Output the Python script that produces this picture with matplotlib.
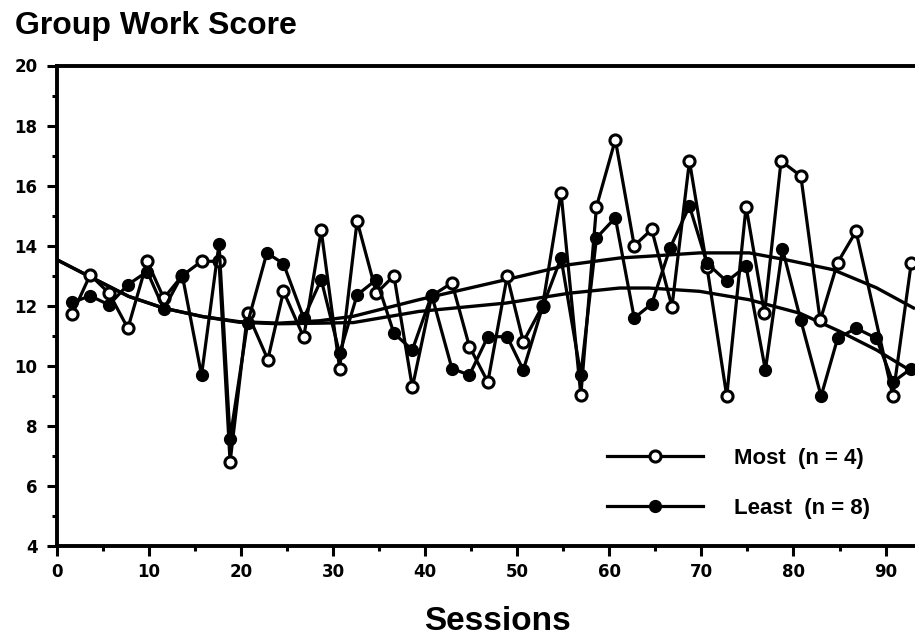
import matplotlib.pyplot as plt
from matplotlib.ticker import MultipleLocator

# session numbers and group work scores
most_x = [1.66, 3.6, 5.65, 7.7, 9.8, 11.6, 13.6, 15.7, 17.6, 18.8, 20.7, 22.9, 24.6,
          26.8, 28.7, 30.7, 32.6, 34.7, 36.6, 38.6, 40.7, 42.9, 44.8, 46.8, 48.9,
          50.65, 52.75, 54.75, 56.9, 58.6, 60.65, 62.7, 64.6, 66.8, 68.7, 70.6,
          72.75, 74.85, 76.85, 78.65, 80.8, 82.9, 84.8, 86.8, 90.8, 92.8]
most_y = [11.72, 13.03, 12.42, 11.25, 13.48, 12.25, 13.0, 13.48, 13.48, 6.79, 11.75,
          10.21, 12.48, 10.95, 14.51, 9.91, 14.82, 12.42, 13.0, 9.28, 12.33, 12.76,
          10.64, 9.46, 12.98, 10.8, 12.0, 15.77, 9.02, 15.3, 17.53, 14.0, 14.54,
          11.97, 16.82, 13.3, 8.99, 15.3, 11.75, 16.82, 16.32, 11.51, 13.44, 14.48,
          8.99, 13.44]

least_x = [1.66, 3.6, 5.65, 7.7, 9.8, 11.6, 13.6, 15.7, 17.6, 18.8, 20.7, 22.8, 24.6,
           26.8, 28.7, 30.7, 32.6, 34.7, 36.6, 38.6, 40.7, 42.9, 44.8, 46.8, 48.9,
           50.65, 52.75, 54.75, 56.9, 58.6, 60.65, 62.7, 64.6, 66.6, 68.7, 70.6,
           72.75, 74.85, 76.95, 78.8, 80.8, 83.0, 84.8, 86.8, 89.0, 90.8, 92.8]
least_y = [12.11, 12.33, 12.03, 12.7, 13.14, 11.89, 13.03, 9.69, 14.06, 7.57, 11.42,
           13.76, 13.4, 11.59, 12.87, 10.41, 12.36, 12.87, 11.08, 10.53, 12.36, 9.91,
           9.69, 10.97, 10.97, 9.86, 11.97, 13.59, 9.69, 14.26, 14.93, 11.59, 12.06,
           13.93, 15.32, 13.42, 12.81, 13.31, 9.86, 13.89, 11.51, 8.99, 10.92, 11.25,
           10.92, 9.46, 9.91]

# smoothed trend lines
most_trend_x = [0, 3.5, 7.8, 11.6, 15.8, 19.8, 24.1, 28.5, 32.2, 39.3, 48.8, 55.7,
                61.1, 64.3, 69.8, 75.2, 79.2, 84.3, 89, 93.2]
most_trend_y = [13.53, 12.98, 12.31, 11.92, 11.64, 11.47, 11.42, 11.5, 11.65, 12.2,
                12.87, 13.37, 13.59, 13.65, 13.76, 13.76, 13.53, 13.2, 12.6, 11.9]
least_trend_x = [0, 3.5, 7.8, 11.6, 15.8, 19.8, 24.1, 28.5, 32.2, 39.3, 48.8, 55.7,
                 61.1, 64.3, 69.8, 75.2, 80.7, 85, 89, 93.2]
least_trend_y = [13.53, 12.98, 12.31, 11.92, 11.64, 11.45, 11.4, 11.42, 11.44, 11.81,
                 12.09, 12.42, 12.59, 12.59, 12.48, 12.2, 11.75, 11.15, 10.53, 9.75]

plt.rcParams["font.family"] = ["Liberation Sans", "DejaVu Sans"]

fig = plt.figure(figsize=(9.15, 6.39), dpi=100)
ax = fig.add_axes([57 / 915, (639 - 546) / 639, (915 - 57) / 915, (546 - 65.5) / 639])

ax.plot(most_trend_x, most_trend_y, color="black", lw=2.4, solid_capstyle="butt")
ax.plot(least_trend_x, least_trend_y, color="black", lw=2.4, solid_capstyle="butt")

most_line, = ax.plot(most_x, most_y, color="black", lw=2.3, marker="o", ms=8,
                     mfc="white", mec="black", mew=2.2, label="Most  (n = 4)")
least_line, = ax.plot(least_x, least_y, color="black", lw=2.3, marker="o", ms=8.5,
                      mfc="black", mec="black", label="Least  (n = 8)")

ax.set_xlim(0, 93.2)
ax.set_ylim(4, 20)

ax.xaxis.set_major_locator(MultipleLocator(10))
ax.xaxis.set_minor_locator(MultipleLocator(5))
ax.yaxis.set_major_locator(MultipleLocator(2))
ax.yaxis.set_minor_locator(MultipleLocator(1))

ax.tick_params(axis="both", which="major", direction="out", width=2.2, length=7,
               labelsize=12, pad=5)
ax.tick_params(axis="y", which="major", pad=7)
ax.tick_params(axis="both", which="minor", direction="out", width=2.2, length=3.5)
for lbl in ax.get_xticklabels() + ax.get_yticklabels():
    lbl.set_fontfamily("DejaVu Sans")
    lbl.set_fontweight("bold")

for side in ["left", "bottom", "top"]:
    ax.spines[side].set_linewidth(2.8)
ax.spines["right"].set_visible(False)

fig.text(15 / 915, 1 - 34 / 639, "Group Work Score", fontsize=23, fontweight="bold",
         ha="left", va="baseline")
fig.text(497 / 915, 1 - 630 / 639, "Sessions", fontsize=24, fontweight="bold",
         ha="center", va="baseline")

ax.legend(handles=[most_line, least_line], loc="upper left",
          bbox_to_anchor=(607 / 915, 1 - 448 / 639), bbox_transform=fig.transFigure,
          frameon=False, prop={"size": 16, "weight": "bold"}, handlelength=4.3,
          handletextpad=1.4, labelspacing=1.3, borderpad=0, borderaxespad=0,
          numpoints=1)

fig.savefig("out.png", dpi=100)
